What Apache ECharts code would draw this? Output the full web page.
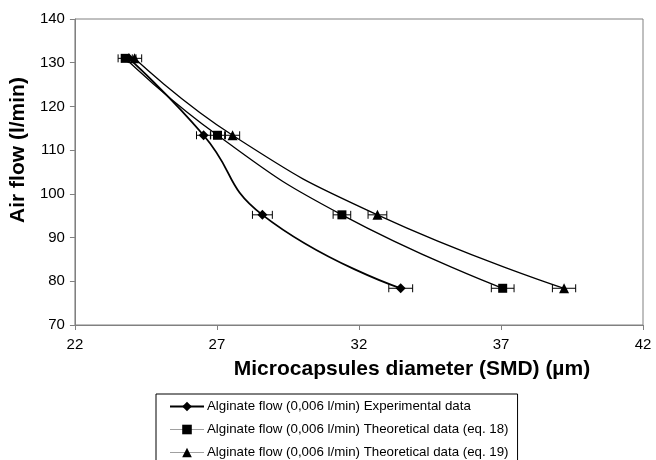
<!DOCTYPE html>
<html>
<head>
<meta charset="utf-8">
<script src="https://cdn.jsdelivr.net/npm/echarts@6/dist/echarts.min.js"></script>
<style>html,body{margin:0;padding:0;background:#fff}#c{width:656px;height:460px}</style>
</head>
<body>
<div id="c"></div>
<script>
// Air flow (l/min) for each measurement row
const airFlow = [131, 113.4, 95.2, 78.4];
// Microcapsule diameter (SMD, µm)
const expDiameter = [23.9, 26.53, 28.6, 33.47];
const eq18Diameter = [23.77, 27.02, 31.4, 37.06];
const eq19Diameter = [24.1, 27.55, 32.65, 39.22];
// Horizontal error (± µm)
const expError = [0.25, 0.25, 0.35, 0.42];
const eq18Error = [0.25, 0.25, 0.31, 0.40];
const eq19Error = [0.25, 0.25, 0.33, 0.41];
const seriesNames = [
  'Alginate flow (0,006 l/min) Experimental data',
  'Alginate flow (0,006 l/min) Theoretical data (eq. 18)',
  'Alginate flow (0,006 l/min) Theoretical data (eq. 19)'
];
const xTicks = [22, 27, 32, 37, 42];
const yTicks = [70, 80, 90, 100, 110, 120, 130, 140];

const FONT = '"Liberation Sans", Arial, sans-serif';
const chart = echarts.init(document.getElementById('c'), null, {renderer: 'canvas'});

function pairs(xs) { return xs.map((x, i) => [x, airFlow[i]]); }
function errRows(xs, es) { return xs.map((x, i) => [x, airFlow[i], es[i]]); }

function errorSeries(xs, es) {
  return {
    type: 'custom',
    silent: true,
    z: 1,
    data: errRows(xs, es),
    renderItem: function (params, api) {
      const x = api.value(0), y = api.value(1), e = api.value(2);
      const a = api.coord([x - e, y]);
      const b = api.coord([x + e, y]);
      const st = {stroke: '#000', lineWidth: 1};
      return {
        type: 'group',
        children: [
          {type: 'line', shape: {x1: a[0], y1: a[1], x2: b[0], y2: b[1]}, style: st},
          {type: 'line', shape: {x1: a[0], y1: a[1] - 4, x2: a[0], y2: a[1] + 4}, style: st},
          {type: 'line', shape: {x1: b[0], y1: b[1] - 4, x2: b[0], y2: b[1] + 4}, style: st}
        ]
      };
    }
  };
}

function lineSeries(name, xs, symbol, size, width) {
  return {
    name: name,
    type: 'line',
    z: 3,
    smooth: 0.5,
    data: pairs(xs),
    symbol: symbol,
    symbolSize: size,
    showAllSymbol: true,
    lineStyle: {color: '#000', width: width},
    itemStyle: {color: '#000', borderWidth: 0},
    emphasis: {disabled: true}
  };
}

chart.setOption({
  animation: false,
  backgroundColor: '#fff',
  textStyle: {fontFamily: FONT},
  grid: {left: 72, right: 13, top: 19, bottom: 135, show: true, borderColor: '#808080', borderWidth: 1, backgroundColor: 'transparent'},
  xAxis: {
    type: 'value',
    min: xTicks[0], max: xTicks[xTicks.length - 1], interval: 5,
    name: 'Microcapsules diameter (SMD) (µm)',
    nameLocation: 'middle',
    nameGap: 34,
    nameTextStyle: {fontFamily: FONT, fontSize: 21, fontWeight: 'bold', color: '#000', padding: [0, 0, 0, 106]},
    axisLine: {lineStyle: {color: '#808080', width: 1}},
    axisTick: {show: true, inside: false, length: 5, lineStyle: {color: '#808080'}},
    axisLabel: {fontFamily: FONT, fontSize: 15, color: '#000', margin: 12},
    splitLine: {show: false}
  },
  yAxis: {
    type: 'value',
    min: yTicks[0], max: yTicks[yTicks.length - 1], interval: 10,
    name: 'Air flow (l/min)',
    nameLocation: 'middle',
    nameRotate: 90,
    nameGap: 42,
    nameTextStyle: {fontFamily: FONT, fontSize: 21, fontWeight: 'bold', color: '#000', padding: [0, 0, 0, 44]},
    axisLine: {show: true, lineStyle: {color: '#808080', width: 1}},
    axisTick: {show: true, inside: false, length: 5, lineStyle: {color: '#808080'}},
    axisLabel: {fontFamily: FONT, fontSize: 15, color: '#000', margin: 10},
    splitLine: {show: false}
  },
  legend: {
    type: 'plain',
    orient: 'vertical',
    left: 156,
    top: 394,
    height: 100,
    padding: [6, 9, 5, 13],
    itemWidth: 34,
    itemHeight: 12,
    itemGap: 10,
    borderColor: '#000',
    borderWidth: 1,
    selectedMode: false,
    textStyle: {fontFamily: FONT, fontSize: 13.3, color: '#000', padding: [0, 0, 0, -2]},
    data: [
      {name: seriesNames[0], lineStyle: {color: '#000', width: 2}},
      {name: seriesNames[1], lineStyle: {color: '#a0a0a0', width: 1}},
      {name: seriesNames[2], lineStyle: {color: '#a0a0a0', width: 1}}
    ]
  },
  series: [
    errorSeries(expDiameter, expError),
    errorSeries(eq18Diameter, eq18Error),
    errorSeries(eq19Diameter, eq19Error),
    lineSeries(seriesNames[0], expDiameter, 'diamond', 10, 1.8),
    lineSeries(seriesNames[1], eq18Diameter, 'rect', 9, 1.3),
    lineSeries(seriesNames[2], eq19Diameter, 'triangle', 10, 1.3)
  ]
});
</script>
</body>
</html>
